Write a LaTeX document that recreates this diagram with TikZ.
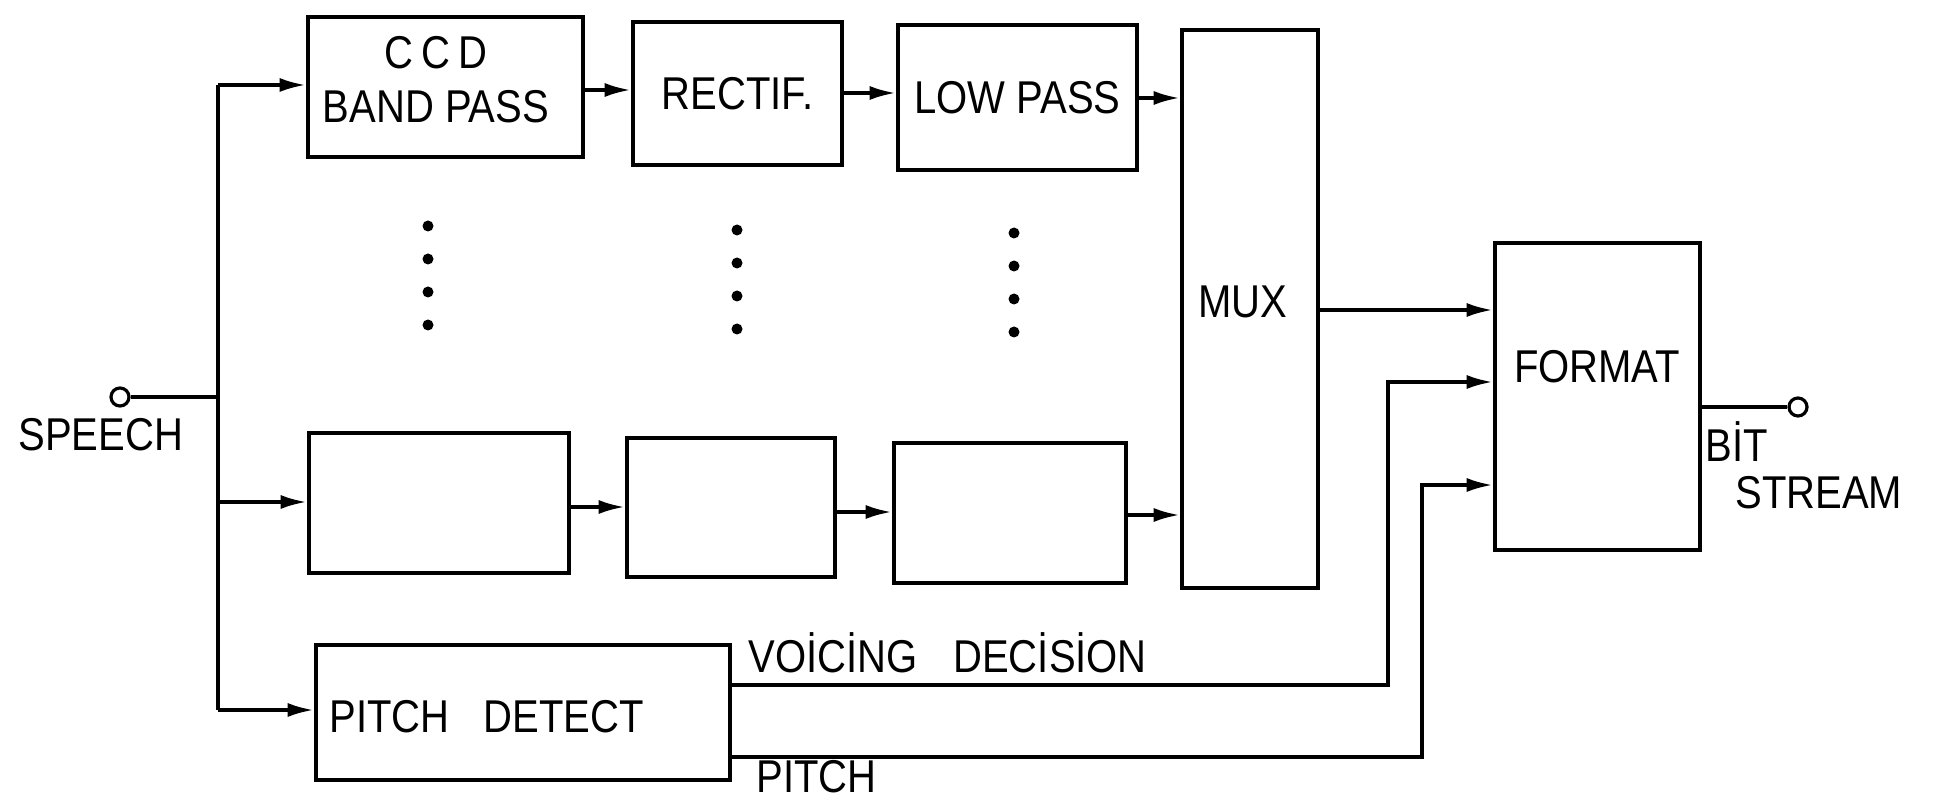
\documentclass[tikz,border=0pt]{standalone}
\usepackage{fontspec}
\setmainfont{Liberation Sans}[FakeStretch=0.87]
\usetikzlibrary{arrows.meta}
\begin{document}
\begin{tikzpicture}[x=0.5pt,y=-0.5pt,
  box/.style={draw, line width=2.3pt, inner sep=0pt},
  lbl/.style={inner sep=0pt, font=\fontsize{23}{27}\selectfont},
  wire/.style={line width=1.7pt},
  arr/.style={wire, -{Latex[length=13pt,width=7pt]}},
  dotmark/.style={circle, fill, inner sep=0pt, minimum size=5.5pt},
  term/.style={circle, draw, line width=1.6pt, inner sep=0pt, minimum size=9pt}]
\useasboundingbox (0,0) rectangle (1952,801);

% boxes
\node[box, minimum width=137.5pt, minimum height=70pt] (ccd) at (445.5,87) {};
\node[lbl, align=center] (ccdtext) at (436,80) {C\hspace{4pt}C\hspace{4pt}D\\BAND PASS};
\node[box, lbl, minimum width=104.5pt, minimum height=71.5pt] (rect) at (737.5,93.5) {RECTIF.};
\node[box, lbl, minimum width=119.5pt, minimum height=72.5pt] (low) at (1017.5,97.5) {LOW PASS};
\node[box, minimum width=68pt, minimum height=279pt] (mux) at (1250,309) {};
\node[lbl] (muxtext) at (1243,302) {MUX};
\node[box, minimum width=130pt, minimum height=70pt] (b1) at (439,503) {};
\node[box, minimum width=104pt, minimum height=69.5pt] (b2) at (731,507.5) {};
\node[box, minimum width=116pt, minimum height=70pt] (b3) at (1010,513) {};
\node[box, minimum width=207pt, minimum height=67.5pt] (pd) at (523,712.5) {};
\node[lbl, anchor=west] (pdtext) at (329,717) {PITCH\hspace{17pt}DETECT};
\node[box, minimum width=102.5pt, minimum height=153.5pt] (fmt) at (1597.5,396.5) {};
\node[lbl] (fmttext) at (1597,367) {FORMAT};

% dots
\foreach \cx/\cy [count=\i] in {428/226, 737/230, 1014/233}{
  \foreach \k in {0,1,2,3}{
    \node[dotmark] (dot\i\k) at (\cx,\cy+33*\k) {};
  }
}

% speech input
\node[term] (spk) at (120,397) {};
\coordinate (busj) at (218,397);
\coordinate (bustop) at (218,85);
\coordinate (busmid) at (218,502);
\coordinate (busbot) at (218,710);
\draw[wire] (spk.east) -- (busj);
\draw[wire] (bustop) -- (busbot);
\draw[arr] (bustop) -- (ccd.west |- bustop);
\draw[arr] (busmid) -- (b1.west |- busmid);
\draw[arr] (busbot) -- (pd.west |- busbot);

% top row
\draw[arr] (ccd.east |- 0,90) -- (rect.west |- 0,90);
\draw[arr] (rect.east |- 0,93) -- (low.west |- 0,93);
\draw[arr] (low.east |- 0,98) -- (mux.west |- 0,98);
% bottom row
\draw[arr] (b1.east |- 0,507) -- (b2.west |- 0,507);
\draw[arr] (b2.east |- 0,512) -- (b3.west |- 0,512);
\draw[arr] (b3.east |- 0,515) -- (mux.west |- 0,515);

% to format
\draw[arr] (mux.east |- 0,310) -- (fmt.west |- 0,310);
\draw[arr] (pd.east |- 0,685) -- (1388,685) -- (1388,382) -- (fmt.west |- 0,382);
\draw[arr] (pd.east |- 0,757) -- (1422,757) -- (1422,485) -- (fmt.west |- 0,485);

% output
\node[term] (out) at (1798,407) {};
\draw[wire] (fmt.east |- out) -- (out.west);

% labels
\node[lbl, anchor=west] (speechlbl) at (18,435) {SPEECH};
\node[lbl, anchor=west] (bitlbl) at (1705,442) {BİT};
\node[lbl, anchor=west] (streamlbl) at (1735,493) {STREAM};
\node[lbl, anchor=west] (voicelbl) at (748,653) {VOİCİNG\hspace{18pt}DECİSİON};
\node[lbl, anchor=west] (pitchlbl) at (756,777) {PITCH};
\end{tikzpicture}
\end{document}
